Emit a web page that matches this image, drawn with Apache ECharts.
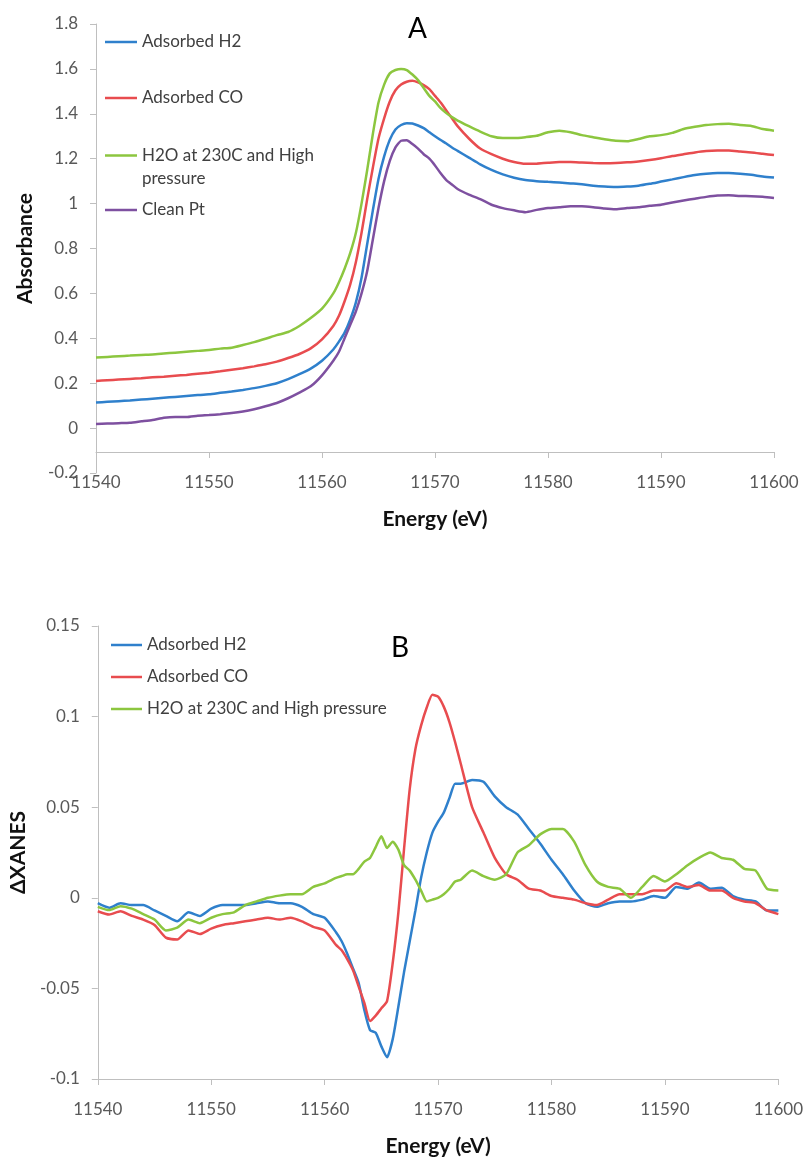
<!DOCTYPE html>
<html>
<head>
<meta charset="utf-8">
<script src="https://cdn.jsdelivr.net/npm/echarts@6/dist/echarts.min.js"></script>
<style>
html,body{margin:0;padding:0;background:#fff;}
#chart{width:806px;height:1158px;}
</style>
</head>
<body>
<div id="chart"></div>
<script>
// Energy grid (eV)
const energy = [
  11540,11541,11542,11543,11544,11545,11546,11547,11548,11549,11550,11551,11552,11553,11554,11555,11556,11557,11558,11559,11560,11561,
  11561.5,11562,11562.5,11563,11563.5,11564,11564.5,11565,11565.5,11566,11566.5,11567,11567.5,11568,11568.5,11569,11569.5,11570,11570.5,11571,11571.5,
  11572,11573,11574,11575,11576,11577,11578,11579,11580,11581,11582,11583,11584,11585,11586,11587,11588,11589,11590,11591,11592,11593,11594,11595,11596,11597,11598,11599,11600
];

const names = ['Adsorbed H2', 'Adsorbed CO', 'H2O at 230C and High pressure', 'Clean Pt'];

// Panel A: Absorbance
const absH2 = [
  0.114,0.117,0.120,0.123,0.127,0.131,0.135,0.139,0.143,0.147,0.151,0.157,0.163,0.170,0.178,0.188,0.200,0.218,0.240,0.265,0.300,0.350,
  0.385,0.425,0.484,0.56,0.67,0.82,0.97,1.11,1.21,1.284,1.33,1.35,1.358,1.357,1.348,1.336,1.318,1.30,1.283,1.268,1.25,
  1.235,1.205,1.175,1.15,1.13,1.115,1.105,1.100,1.097,1.094,1.090,1.086,1.080,1.076,1.074,1.076,1.080,1.088,1.098,1.108,1.118,1.127,1.133,1.136,1.136,1.133,1.128,1.121,1.116
];
const absCO = [
  0.210,0.213,0.216,0.219,0.222,0.226,0.229,0.233,0.237,0.242,0.247,0.253,0.260,0.267,0.275,0.284,0.296,0.312,0.330,0.355,0.395,0.455,
  0.50,0.565,0.64,0.74,0.87,1.02,1.16,1.29,1.38,1.455,1.505,1.53,1.543,1.547,1.54,1.528,1.51,1.48,1.45,1.415,1.38,
  1.345,1.29,1.245,1.22,1.20,1.185,1.177,1.178,1.182,1.185,1.185,1.183,1.181,1.180,1.181,1.184,1.188,1.194,1.202,1.212,1.220,1.228,1.234,1.236,1.236,1.232,1.228,1.222,1.216
];
const absH2O = [
  0.314,0.317,0.320,0.323,0.326,0.328,0.332,0.336,0.340,0.344,0.348,0.354,0.358,0.370,0.383,0.398,0.414,0.428,0.455,0.490,0.532,0.600,
  0.65,0.71,0.78,0.87,1.00,1.15,1.31,1.45,1.53,1.58,1.595,1.60,1.595,1.575,1.55,1.515,1.48,1.455,1.425,1.403,1.385,
  1.37,1.345,1.321,1.30,1.292,1.292,1.296,1.302,1.318,1.325,1.318,1.305,1.296,1.287,1.280,1.278,1.288,1.300,1.305,1.315,1.332,1.342,1.350,1.354,1.356,1.350,1.346,1.332,1.325
];
const absPt = [
  0.018,0.020,0.022,0.024,0.030,0.036,0.046,0.050,0.049,0.055,0.058,0.062,0.067,0.074,0.084,0.097,0.112,0.133,0.158,0.186,0.235,0.30,
  0.34,0.40,0.46,0.52,0.60,0.70,0.84,0.98,1.10,1.19,1.25,1.28,1.282,1.265,1.245,1.22,1.20,1.17,1.135,1.105,1.085,
  1.065,1.04,1.02,0.995,0.98,0.97,0.962,0.972,0.980,0.984,0.988,0.988,0.984,0.978,0.975,0.980,0.984,0.990,0.995,1.005,1.014,1.022,1.030,1.036,1.037,1.034,1.033,1.030,1.025
];

// Panel B: Delta XANES
const dH2 = [
  -0.003,-0.0055,-0.003,-0.004,-0.004,-0.007,-0.010,-0.013,-0.008,-0.010,-0.006,-0.004,-0.004,-0.004,-0.003,-0.002,-0.003,-0.003,-0.005,-0.009,-0.011,-0.019,
  -0.024,-0.031,-0.039,-0.047,-0.062,-0.073,-0.0745,-0.082,-0.088,-0.078,-0.060,-0.041,-0.024,-0.007,0.011,0.025,0.036,0.042,0.047,0.055,0.063,
  0.063,0.065,0.064,0.056,0.050,0.046,0.038,0.030,0.021,0.013,0.004,-0.003,-0.005,-0.003,-0.002,-0.002,-0.001,0.001,0.000,0.006,0.005,0.0085,0.005,0.0055,0.001,-0.001,-0.002,-0.007,-0.007
];
const dCO = [
  -0.0074,-0.0092,-0.0074,-0.010,-0.012,-0.015,-0.022,-0.023,-0.018,-0.020,-0.017,-0.015,-0.014,-0.013,-0.012,-0.011,-0.012,-0.011,-0.013,-0.016,-0.018,-0.026,
  -0.029,-0.034,-0.040,-0.049,-0.058,-0.068,-0.065,-0.061,-0.057,-0.036,-0.008,0.027,0.060,0.082,0.095,0.105,0.112,0.111,0.1055,0.097,0.086,
  0.074,0.050,0.036,0.022,0.013,0.010,0.005,0.004,0.001,0.000,-0.001,-0.003,-0.004,-0.001,0.002,0.002,0.002,0.004,0.004,0.008,0.006,0.007,0.004,0.004,0.000,-0.002,-0.003,-0.007,-0.009
];
const dH2O = [
  -0.005,-0.0068,-0.0046,-0.006,-0.009,-0.012,-0.018,-0.0165,-0.012,-0.014,-0.011,-0.009,-0.008,-0.004,-0.002,0.000,0.0012,0.002,0.002,0.006,0.008,0.011,
  0.012,0.013,0.013,0.016,0.020,0.022,0.028,0.034,0.0275,0.031,0.0266,0.018,0.015,0.010,0.004,-0.002,-0.001,0.000,0.002,0.005,0.009,
  0.010,0.015,0.012,0.010,0.013,0.025,0.029,0.035,0.038,0.038,0.031,0.018,0.009,0.006,0.005,0.000,0.006,0.012,0.009,0.013,0.018,0.022,0.025,0.022,0.021,0.016,0.015,0.005,0.004
];

const yTicksA = { min: -0.2, max: 1.8, interval: 0.2 };
const yTicksB = { min: -0.1, max: 0.15, interval: 0.05 };
const xTicks = { min: 11540, max: 11600, interval: 10 };

const colors = { h2: '#2F80CC', co: '#E84C4F', h2o: '#8CC63F', pt: '#7E50A0' };
const FONT = 'Lato, "Open Sans", sans-serif';

function pairs(arr) { return energy.map((e, i) => [e, arr[i]]); }

function lineSeries(name, arr, color, idx) {
  return {
    name: name, type: 'line', xAxisIndex: idx, yAxisIndex: idx,
    data: pairs(arr), showSymbol: false, symbol: 'none', smooth: 0.2,
    lineStyle: { color: color, width: 2.5 }, itemStyle: { color: color },
    emphasis: { disabled: true }
  };
}

const axisLineStyle = { lineStyle: { color: '#BFBFBF', width: 1 } };
const tickLabel = { color: '#595959', fontSize: 17, fontFamily: FONT };
const nameStyle = { color: '#111111', fontSize: 21, fontWeight: 'bold', fontFamily: FONT };

function xAxis(idx, offset) {
  return {
    type: 'value', gridIndex: idx, min: xTicks.min, max: xTicks.max, interval: xTicks.interval,
    offset: offset,
    axisLine: { show: true, onZero: false, lineStyle: axisLineStyle.lineStyle },
    axisTick: { show: true, length: 6, lineStyle: axisLineStyle.lineStyle },
    axisLabel: Object.assign({ margin: 22, formatter: function (v) { return String(v); } }, tickLabel),
    splitLine: { show: false },
    name: 'Energy (eV)', nameLocation: 'middle', nameGap: 57, nameTextStyle: nameStyle
  };
}
function yAxis(idx, t, name) {
  return {
    type: 'value', gridIndex: idx, min: t.min, max: t.max, interval: t.interval,
    axisLine: { show: true, onZero: false, lineStyle: axisLineStyle.lineStyle },
    axisTick: { show: true, length: 6, lineStyle: axisLineStyle.lineStyle },
    axisLabel: Object.assign({ margin: 18 }, tickLabel),
    splitLine: { show: false },
    name: name, nameLocation: 'middle', nameGap: 60, nameTextStyle: nameStyle
  };
}

const legendText = { color: '#404040', fontSize: 17, fontFamily: FONT, lineHeight: 20 };
function oneLegend(name, top, extra) {
  return Object.assign({
    data: [name], left: 105, top: top, padding: 0, icon: 'rect', itemWidth: 32, itemHeight: 2.5,
    textStyle: legendText, selectedMode: false
  }, extra || {});
}

const chart = echarts.init(document.getElementById('chart'), null, { renderer: 'canvas' });
chart.setOption({
  animation: false,
  backgroundColor: '#ffffff',
  grid: [
    { left: 96, top: 24, width: 678, height: 449 },
    { left: 96, top: 626, width: 683, height: 454 }
  ],
  xAxis: [ xAxis(0, -21), xAxis(1, 0) ],
  yAxis: [ yAxis(0, yTicksA, 'Absorbance'), yAxis(1, yTicksB, 'ΔXANES') ],
  legend: [
    oneLegend(names[0], 32),
    oneLegend(names[1], 88),
    oneLegend(names[2], 121, {
      formatter: function () { return ' \nH2O at 230C and High\npressure'; },
      textStyle: Object.assign({}, legendText, { lineHeight: 23 })
    }),
    oneLegend(names[3], 200),
    {
      data: [names[0], names[1], names[2]], left: 111, top: 635, orient: 'vertical', itemGap: 12,
      padding: 0, icon: 'rect', itemWidth: 31, itemHeight: 2.5, textStyle: legendText, selectedMode: false
    }
  ],
  graphic: [
    { type: 'text', left: 408, top: 15, style: { text: 'A', fontSize: 28, fontFamily: FONT, fill: '#000' } },
    { type: 'text', left: 391, top: 634, style: { text: 'B', fontSize: 28, fontFamily: FONT, fill: '#000' } }
  ],
  series: [
    lineSeries(names[0], absH2, colors.h2, 0),
    lineSeries(names[1], absCO, colors.co, 0),
    lineSeries(names[2], absH2O, colors.h2o, 0),
    lineSeries(names[3], absPt, colors.pt, 0),
    lineSeries(names[0], dH2, colors.h2, 1),
    lineSeries(names[1], dCO, colors.co, 1),
    lineSeries(names[2], dH2O, colors.h2o, 1)
  ]
});
</script>
</body>
</html>
